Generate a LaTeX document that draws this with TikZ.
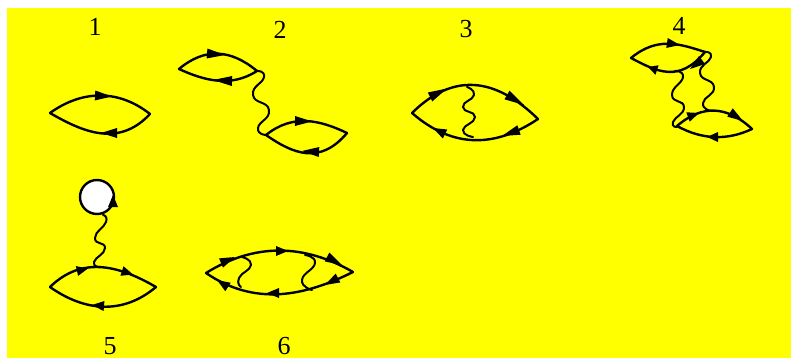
\documentclass[tikz,border=0pt]{standalone}
\usepackage{fontspec}
\setmainfont{Liberation Serif}
\usetikzlibrary{calc}
\definecolor{bgyellow}{RGB}{255,255,0}
\newcommand{\lensarc}[4]{%
  \draw[fermion] (#1) .. controls ($-0.8333*(#1)+3*(#2)-1.5*(#3)+0.3333*(#4)$) and ($0.3333*(#1)-1.5*(#2)+3*(#3)-0.8333*(#4)$) .. (#4);}
\newcommand{\head}[2]{\fill ($(#1)!5pt!90:(#2)$) -- (#2) -- ($(#1)!5pt!-90:(#2)$) -- cycle;}
\newcommand{\wig}[1]{\draw[photon] plot[smooth,tension=1] coordinates {#1};}
\tikzset{
  fermion/.style={line width=2.4pt,line cap=round,line join=round},
  photon/.style={line width=2pt,line cap=round,line join=round},
  numlabel/.style={font=\fontsize{26}{26}\selectfont,inner sep=0pt,anchor=center}
}
\begin{document}
\begin{tikzpicture}[x=1pt,y=-1pt]
\useasboundingbox (0,0) rectangle (791,358);
\fill[bgyellow] (7,8) rectangle (791,358);
\node[numlabel] (n1) at (95,27) {1};
\node[numlabel] (n2) at (280,30) {2};
\node[numlabel] (n3) at (466,29) {3};
\node[numlabel] (n4) at (679,26) {4};
\node[numlabel] (n5) at (110,346) {5};
\node[numlabel] (n6) at (284,346) {6};
% 1
\lensarc{50,113}{83,97.5}{117,97.5}{150,114}
\lensarc{50,113}{83,129}{117,133}{150,114}
\head{95,95.5}{112,96.5}
\head{117,133}{101,133}
% 2
\lensarc{179,69}{205,55}{231,56}{257,71}
\lensarc{179,69}{205,78.5}{231,80.5}{257,71}
\head{207,53.5}{225,55}
\head{232,81}{213,80}
\wig{(257,71)(264,77)(253,95)(269,110)(258,128)(266,135)}
\lensarc{266,135}{293,122}{320,123}{347,133}
\lensarc{266,135}{293,150}{320,152}{347,133}
\head{295,121}{312,121.5}
\head{319,152}{302,151}
% 3
\lensarc{412,113}{454,87}{496,90}{538,119}
\lensarc{412,113}{454,137}{496,138}{538,119}
\head{430,97}{447,88.5}
\head{507,95}{524,105}
\head{445,134}{433,128}
\head{519,130}{502,136}
\wig{(467,87)(474,95)(463,107)(475,117)(463,130)(473,137)}
% 4
\lensarc{631,58}{656,45}{680,45}{705,52}
\lensarc{631,58}{656,69.5}{680,70.5}{705,52}
\head{667,43}{680,45}
\head{657,70}{648,67}
\head{702,60}{690,69}
\wig{(705,52)(711,57)(700,73)(714,87)(703,103)(711,111)}
\wig{(675,71)(683,77)(672,95)(684,107)(673,122)(677,127)}
\lensarc{677,126}{702,112}{727,113}{752,129}
\lensarc{677,126}{702,135.5}{727,136.5}{752,129}
\head{688,117}{699,113}
\head{730,112.5}{743,121}
\head{718,137}{707,137}
% 5
\draw[fermion,fill=white] (97,197) circle[radius=17pt];
\head{113,207}{113,195}
\wig{(103,215)(106,222)(95,238)(105,248)(94,262)(100,267)}
\lensarc{50,287}{85,268}{121,271}{156,287}
\lensarc{50,287}{85,304}{121,305}{156,287}
\head{77,271}{88,268.5}
\head{122,271}{133,274.5}
\head{104,306}{92,305}
% 6
\lensarc{206,273}{255,253}{304,253}{353,272}
\lensarc{206,273}{255,293}{304,290.5}{353,272}
\head{221,263}{235,257}
\head{276,251}{288,251}
\head{327,257}{342,265}
\head{228,287}{217,280}
\head{279,293}{267,293}
\head{338,278}{325,285}
\wig{(242,257)(251,265)(239,278)(241,287)}
\wig{(305,255)(315,263)(302,280)(312,290)}
\end{tikzpicture}
\end{document}
